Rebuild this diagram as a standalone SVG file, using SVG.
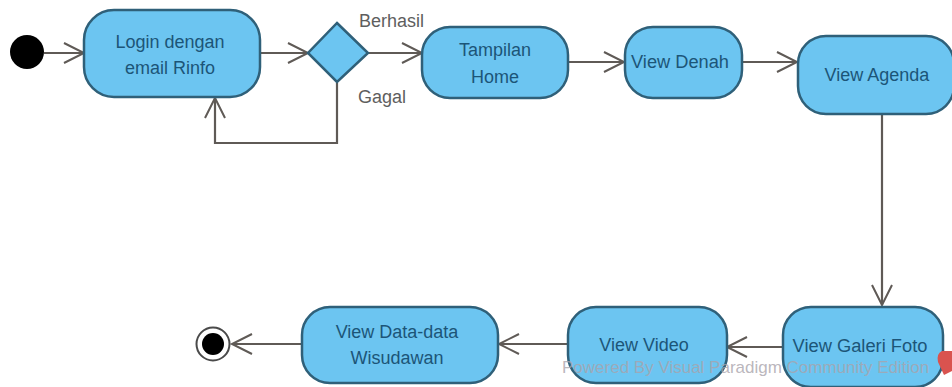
<svg xmlns="http://www.w3.org/2000/svg" width="952" height="387" viewBox="0 0 952 387">
<defs>
<marker id="arr" markerUnits="userSpaceOnUse" markerWidth="24" markerHeight="28" refX="21" refY="14" orient="auto"><path d="M1 4 L21 14 L1 24" fill="none" stroke="#5f5a56" stroke-width="2"/></marker>
</defs>
<style>
text{font-family:"Liberation Sans",Arial,sans-serif}
.n{fill:#6cc5f1;stroke:#2f6079;stroke-width:2.5}
.t{font-size:18px;fill:#1c5578;text-anchor:middle}
.l{font-size:18px;fill:#5e5e5e}
.c{fill:none;stroke:#5f5a56;stroke-width:2.2;marker-end:url(#arr)}
</style>
<rect width="952" height="387" fill="#fff"/>
<g id="connectors">
<path class="c" d="M44 53H84"/>
<path class="c" d="M260 53H308"/>
<path class="c" d="M368 53H422"/>
<path class="c" d="M337 83V143H215V98"/>
<path class="c" d="M568 62H624"/>
<path class="c" d="M742 62H797"/>
<path class="c" d="M882 114V305"/>
<path class="c" d="M783 347H727"/>
<path class="c" d="M568 344H499"/>
<path class="c" d="M301 344H232"/>
</g>
<g id="start"><circle cx="27" cy="52" r="17" fill="#000"/></g>
<g id="login"><rect class="n" x="84" y="10" width="176" height="87" rx="30"/><text class="t" x="170" y="48">Login dengan</text><text class="t" x="170" y="74">email Rinfo</text></g>
<g id="decision"><path class="n" d="M337 23L368 53L337 82L308 53Z"/></g>
<g id="label-berhasil"><text class="l" x="359" y="27">Berhasil</text></g>
<g id="label-gagal"><text class="l" x="358" y="103">Gagal</text></g>
<g id="home"><rect class="n" x="422" y="27" width="146" height="71" rx="28"/><text class="t" x="495" y="56">Tampilan</text><text class="t" x="495" y="83">Home</text></g>
<g id="denah"><rect class="n" x="625" y="27" width="117" height="71" rx="28"/><text class="t" x="680" y="68" textLength="98" lengthAdjust="spacingAndGlyphs">View Denah</text></g>
<g id="agenda"><rect class="n" x="798" y="36" width="156" height="78" rx="28"/><text class="t" x="877" y="81">View Agenda</text></g>
<g id="galeri"><rect class="n" x="783" y="307" width="160" height="80" rx="28"/><text class="t" x="860" y="352" textLength="135" lengthAdjust="spacingAndGlyphs">View Galeri Foto</text></g>
<g id="video"><rect class="n" x="568" y="307" width="159" height="76" rx="28"/><text class="t" x="644" y="351">View Video</text></g>
<g id="wisudawan"><rect class="n" x="302" y="307" width="196" height="76" rx="28"/><text class="t" x="397" y="338">View Data-data</text><text class="t" x="397" y="364">Wisudawan</text></g>
<g id="end"><circle cx="213" cy="344" r="16.5" fill="#fff" stroke="#4a4a4a" stroke-width="2"/><circle cx="213" cy="344" r="11" fill="#000"/></g>
<g id="watermark"><text x="562" y="373" font-size="17" fill="#a9a3ab" fill-opacity=".8">Powered By  Visual Paradigm Community Edition</text><path d="M952 351H942Q936 354 938 362L944 375L952 371Z" fill="#d9534f"/></g>
</svg>
